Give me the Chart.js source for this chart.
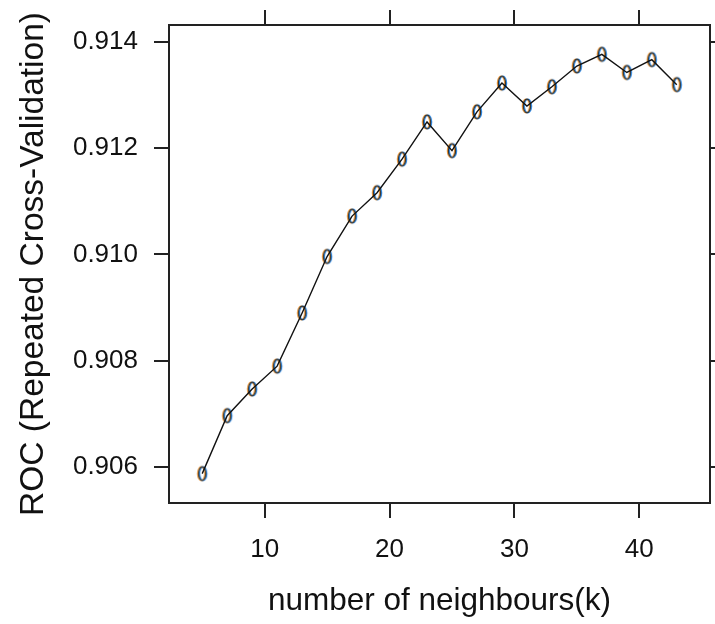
<!DOCTYPE html>
<html>
<head>
<meta charset="utf-8">
<script src="https://cdn.jsdelivr.net/npm/chart.js@4"></script>
<style>
  html, body { margin: 0; padding: 0; background: #fff; overflow: hidden; }
  #plot { display: block; }
</style>
</head>
<body>
<canvas id="plot" width="715" height="624"></canvas>
<script>
/* ── DATA ─────────────────────────────────────────────── */
const K_VALUES = [5, 7, 9, 11, 13, 15, 17, 19, 21, 23, 25, 27, 29, 31, 33, 35, 37, 39, 41, 43];
const ROC      = [0.90588, 0.90697, 0.90747, 0.90790, 0.90890, 0.90996, 0.91072, 0.91116, 0.91179, 0.91249,
                  0.91195, 0.91268, 0.91322, 0.91279, 0.91315, 0.91354, 0.91376, 0.91342, 0.91366, 0.91319];
const X_TICKS  = [10, 20, 30, 40];
const Y_TICKS  = [0.906, 0.908, 0.910, 0.912, 0.914];
const X_TITLE  = 'number of neighbours(k)';
const Y_TITLE  = 'ROC (Repeated Cross-Validation)';

/* ── RANGES (lattice pads 7% each side) ─────────────── */
function padRange(arr) {
  const lo = Math.min(...arr), hi = Math.max(...arr), d = (hi - lo) * 0.07;
  return [lo - d, hi + d];
}
const [xMin, xMax] = padRange(K_VALUES);
const [yMin, yMax] = padRange(ROC);

const INK = '#222';
const FONT = 'Liberation Sans, Arial, sans-serif';

/* ── MARKER: the open "o" glyph with a bit of colour fringe ── */
function makeMarker() {
  const c = document.createElement('canvas');
  c.width = 16; c.height = 22;
  const g = c.getContext('2d');
  const ring = (dx, col, w) => {
    g.beginPath();
    g.ellipse(8 + dx, 11, 3.6, 6.8, 0, 0, Math.PI * 2);
    g.strokeStyle = col; g.lineWidth = w; g.stroke();
  };
  ring(-1, 'rgb(235,150,55)', 1.3);
  ring(1, 'rgb(45,140,235)', 1.3);
  ring(0, '#333', 1.2);
  return c;
}

// lock an axis to a fixed size and drop the label overhang padding
function fixSize(prop, v) {
  return s => { s[prop] = v; s.paddingTop = 0; s.paddingBottom = 0; s.paddingLeft = 0; s.paddingRight = 0; };
}
function setTicks(list) { return s => { s.ticks = list.map(v => ({ value: v })); }; }

const tickGrid = { drawOnChartArea: false, drawTicks: true, tickLength: 15, color: INK, lineWidth: 2 };
const edge = { display: true, color: INK, width: 2 };

new Chart(document.getElementById('plot'), {
  type: 'line',
  data: {
    datasets: [
      {
        data: K_VALUES.map((k, i) => ({ x: k, y: ROC[i] })),
        borderColor: '#111', borderWidth: 1.4,
        pointRadius: 0, tension: 0, order: 1
      },
      {
        data: K_VALUES.map((k, i) => ({ x: k, y: ROC[i] })),
        showLine: false, pointStyle: makeMarker(), order: 2
      }
    ]
  },
  options: {
    responsive: false,
    animation: false,
    layout: { padding: 0 },
    plugins: { legend: { display: false }, tooltip: { enabled: false } },
    scales: {
      x: {
        type: 'linear', position: 'bottom', min: xMin, max: xMax,
        afterBuildTicks: setTicks(X_TICKS), afterFit: fixSize('height', 121),
        grid: tickGrid, border: edge,
        ticks: { color: '#111', padding: 16, maxRotation: 0, font: { family: FONT, size: 26 } },
        title: { display: true, text: X_TITLE, color: '#111', padding: { top: 0, bottom: 4 },
                 font: { family: FONT, size: 31.5 } }
      },
      x2: {
        type: 'linear', axis: 'x', position: 'top', min: xMin, max: xMax,
        afterBuildTicks: setTicks(X_TICKS), afterFit: fixSize('height', 25),
        grid: tickGrid, border: edge, ticks: { display: false }
      },
      y: {
        type: 'linear', position: 'left', min: yMin, max: yMax,
        afterBuildTicks: setTicks(Y_TICKS), afterFit: fixSize('width', 169),
        grid: tickGrid, border: edge,
        ticks: { color: '#111', padding: 16, callback: v => v.toFixed(3), font: { family: FONT, size: 26 } },
        title: { display: true, text: Y_TITLE, color: '#111', padding: { top: 14, bottom: 0 },
                 font: { family: FONT, size: 33.5 } }
      },
      y2: {
        type: 'linear', axis: 'y', position: 'right', min: yMin, max: yMax,
        afterBuildTicks: setTicks(Y_TICKS), afterFit: fixSize('width', 3),
        grid: tickGrid, border: edge, ticks: { display: false }
      }
    }
  }
});
</script>
</body>
</html>
